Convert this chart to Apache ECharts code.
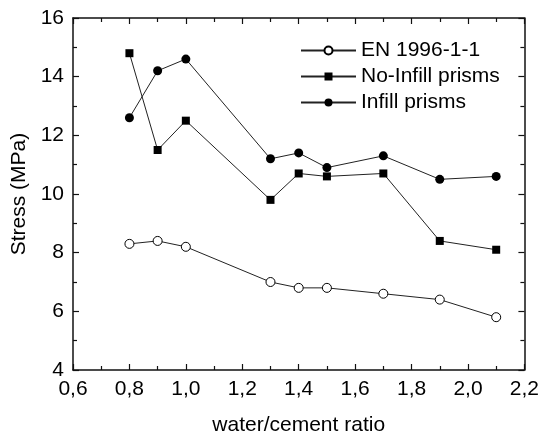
<!DOCTYPE html>
<html>
<head>
<meta charset="utf-8">
<script src="https://cdn.jsdelivr.net/npm/echarts@6/dist/echarts.min.js"></script>
<style>
html, body { margin: 0; padding: 0; background: #fff; }
#chart { width: 542px; height: 441px; }
</style>
</head>
<body>
<div id="chart"></div>
<script>
// water/cement ratio
var wcRatio = [0.8, 0.9, 1.0, 1.3, 1.4, 1.5, 1.7, 1.9, 2.1];
var enStress = [8.3, 8.4, 8.2, 7.0, 6.8, 6.8, 6.6, 6.4, 5.8];
var noInfillStress = [14.8, 11.5, 12.5, 9.8, 10.7, 10.6, 10.7, 8.4, 8.1];
var infillStress = [12.6, 14.2, 14.6, 11.2, 11.4, 10.9, 11.3, 10.5, 10.6];
var seriesNames = ['EN 1996-1-1', 'No-Infill prisms', 'Infill prisms'];

function pairs(ys) {
    return wcRatio.map(function (x, i) { return [x, ys[i]]; });
}

var chartDom = document.getElementById('chart');
var myChart = echarts.init(chartDom);
var font = 'Liberation Sans, Arial, sans-serif';

var frameAxis = {
    axisLine: { show: true, onZero: false, lineStyle: { color: '#111', width: 1.5 } },
    axisTick: { show: true, inside: true, length: 6, lineStyle: { color: '#111', width: 1.2 } },
    minorTick: { show: true, splitNumber: 2, length: 4, lineStyle: { color: '#111', width: 1.2 } },
    splitLine: { show: false }
};

var option = {
    backgroundColor: '#fff',
    animation: false,
    grid: {
        left: 73,
        right: 17,
        top: 18,
        bottom: 69,
        containLabel: false
    },
    legend: {
        left: 295,
        top: 35,
        orient: 'vertical',
        itemWidth: 55,
        itemHeight: 10,
        itemGap: 5,
        textStyle: { fontFamily: font, fontSize: 21, color: '#000', lineHeight: 21 },
        data: seriesNames
    },
    xAxis: [
        Object.assign({
            type: 'value',
            min: 0.6,
            max: 2.2,
            interval: 0.2,
            position: 'bottom',
            name: 'water/cement ratio',
            nameLocation: 'middle',
            nameGap: 45,
            nameTextStyle: { fontFamily: font, fontSize: 21, color: '#000' },
            axisLabel: {
                margin: 9,
                fontFamily: font,
                fontSize: 21,
                color: '#000',
                formatter: function (v) { return v.toFixed(1).replace('.', ','); }
            }
        }, frameAxis),
        Object.assign({
            type: 'value',
            min: 0.6,
            max: 2.2,
            interval: 0.2,
            position: 'top',
            axisLabel: { show: false }
        }, frameAxis)
    ],
    yAxis: [
        Object.assign({
            type: 'value',
            min: 4,
            max: 16,
            interval: 2,
            position: 'left',
            name: 'Stress (MPa)',
            nameLocation: 'middle',
            nameGap: 41,
            nameTextStyle: { fontFamily: font, fontSize: 21, color: '#000' },
            axisLabel: { margin: 9, fontFamily: font, fontSize: 21, color: '#000' }
        }, frameAxis),
        Object.assign({
            type: 'value',
            min: 4,
            max: 16,
            interval: 2,
            position: 'right',
            axisLabel: { show: false }
        }, frameAxis)
    ],
    series: [
        {
            name: seriesNames[0],
            type: 'line',
            symbol: 'circle',
            symbolSize: 9,
            itemStyle: { color: '#fff', borderColor: '#000', borderWidth: 1 },
            lineStyle: { color: '#222', width: 1 },
            data: pairs(enStress)
        },
        {
            name: seriesNames[1],
            type: 'line',
            symbol: 'rect',
            symbolSize: 8,
            itemStyle: { color: '#000', borderColor: '#000', borderWidth: 0 },
            lineStyle: { color: '#222', width: 1 },
            data: pairs(noInfillStress)
        },
        {
            name: seriesNames[2],
            type: 'line',
            symbol: 'circle',
            symbolSize: 9,
            itemStyle: { color: '#000', borderColor: '#000', borderWidth: 0 },
            lineStyle: { color: '#222', width: 1 },
            data: pairs(infillStress)
        }
    ]
};

option && myChart.setOption(option);
</script>
</body>
</html>
